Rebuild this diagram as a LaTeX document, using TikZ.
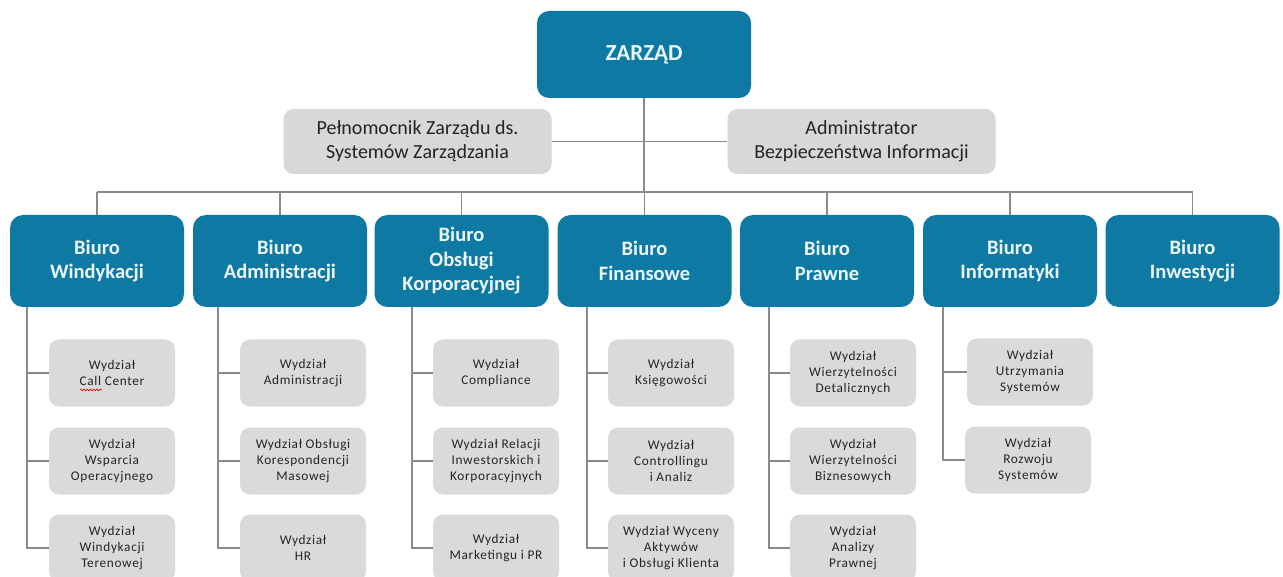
\documentclass[tikz,border=0pt]{standalone}
\usepackage{fontspec}
\setmainfont{Carlito}
\newfontfamily\unitfont{Carlito}[LetterSpace=5]
\usetikzlibrary{decorations.pathmorphing}

\definecolor{boardblue}{RGB}{14,122,164}
\definecolor{bluetext}{RGB}{236,247,251}
\definecolor{staffgray}{RGB}{216,216,216}
\definecolor{unitgray}{RGB}{218,218,218}
\definecolor{darktext}{RGB}{36,36,36}
\definecolor{linegray}{RGB}{138,138,138}

\begin{document}
\begin{tikzpicture}[x=1pt,y=-1pt,
  link/.style={draw=linegray, line width=1.3pt},
  boardbox/.style={rectangle, rounded corners=12pt, fill=boardblue, text=bluetext,
    font=\fontsize{23}{27}\selectfont\bfseries, minimum width=214pt, minimum height=87pt, inner sep=0pt},
  staffbox/.style={rectangle, rounded corners=10pt, fill=staffgray, text=darktext, align=center,
    font=\fontsize{20}{24}\selectfont, minimum width=268pt, minimum height=65pt, inner sep=0pt},
  officebox/.style={rectangle, rounded corners=13pt, fill=boardblue, text=bluetext, align=center,
    font=\fontsize{20.5}{24.5}\selectfont\bfseries, minimum width=174pt, minimum height=92pt, inner sep=0pt},
  unitbox/.style={rectangle, rounded corners=10pt, fill=unitgray, text=darktext, align=center,
    font=\unitfont\fontsize{13.3}{16}\selectfont, minimum width=126pt, minimum height=67pt, inner sep=0pt},
]
\useasboundingbox (0,0) rectangle (1283,577);
\fill[white] (0,0) rectangle (1283,577);

% top level
\node[boardbox] (board) at (644,54.5) {ZARZĄD};
\node[staffbox] (proxy) at (417.5,141.5) {Pełnomocnik Zarządu ds.\\Systemów Zarządzania};
\node[staffbox] (secadm) at (861.5,141.5) {Administrator\\Bezpieczeństwa Informacji};

% offices
\node[officebox] (b1) at (97,261)   {Biuro\\Windykacji};
\node[officebox] (b2) at (280,261)  {Biuro\\Administracji};
\node[officebox] (b3) at (461.5,261){Biuro\\Obsługi\\Korporacyjnej};
\node[officebox] (b4) at (644.5,261){Biuro\\Finansowe};
\node[officebox] (b5) at (827,261)  {Biuro\\Prawne};
\node[officebox] (b6) at (1010,261) {Biuro\\Informatyki};
\node[officebox] (b7) at (1192.5,261){Biuro\\Inwestycji};

% departments
\node[unitbox] (u11) at (112,373) {Wydział\\Call Center};
\node[unitbox] (u12) at (112,461) {Wydział\\Wsparcia\\Operacyjnego};
\node[unitbox] (u13) at (112,548) {Wydział\\Windykacji\\Terenowej};

\node[unitbox] (u21) at (303,373) {Wydział\\Administracji};
\node[unitbox] (u22) at (303,461) {Wydział Obsługi\\Korespondencji\\Masowej};
\node[unitbox] (u23) at (303,548) {Wydział\\HR};

\node[unitbox] (u31) at (496,373) {Wydział\\Compliance};
\node[unitbox] (u32) at (496,461) {Wydział Relacji\\Inwestorskich i\\Korporacyjnych};
\node[unitbox] (u33) at (496,548) {Wydział\\Marketingu i PR};

\node[unitbox] (u41) at (671,373) {Wydział\\Księgowości};
\node[unitbox] (u42) at (671,461) {Wydział\\Controllingu\\i Analiz};
\node[unitbox] (u43) at (671,548) {Wydział Wyceny\\Aktywów\\i Obsługi Klienta};

\node[unitbox] (u51) at (853,373) {Wydział\\Wierzytelności\\Detalicznych};
\node[unitbox] (u52) at (853,461) {Wydział\\Wierzytelności\\Biznesowych};
\node[unitbox] (u53) at (853,548) {Wydział\\Analizy\\Prawnej};

\node[unitbox] (u61) at (1030,372) {Wydział\\Utrzymania\\Systemów};
\node[unitbox] (u62) at (1028,460) {Wydział\\Rozwoju\\Systemów};

% spell-check squiggle under "Call"
\draw[red!80!black, line width=0.6pt, decorate, decoration={snake, amplitude=0.9pt, segment length=3.2pt}]
  (80,390) -- (102,390);

% board links
\coordinate (bus) at (644,192);
\draw[link] (board.south) -- (board.south |- bus);
\draw[link] (proxy.east) -- (secadm.west);
\draw[link] (b1.north |- bus) -- (b7.north |- bus);
\foreach \b in {b1,b2,b3,b4,b5,b6,b7}
  \draw[link] (\b.north |- bus) -- (\b.north);

% department spines
\coordinate (s1) at (27,307);
\coordinate (s2) at (218,307);
\coordinate (s3) at (412,307);
\coordinate (s4) at (587,307);
\coordinate (s5) at (769,307);
\coordinate (s6) at (943,307);
\foreach \s/\c in {1/3,2/3,3/3,4/3,5/3,6/2}{
  \draw[link] (s\s) |- (u\s\c.west);
}
\foreach \s/\c in {1/1,1/2,2/1,2/2,3/1,3/2,4/1,4/2,5/1,5/2,6/1}{
  \draw[link] (s\s |- u\s\c.west) -- (u\s\c.west);
}
\end{tikzpicture}
\end{document}
